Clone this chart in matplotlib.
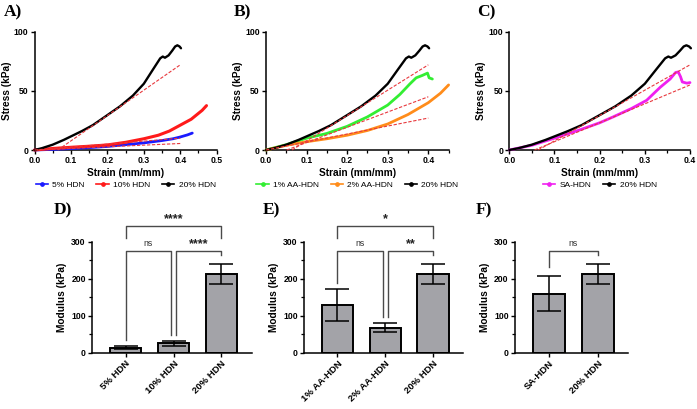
import numpy as np
import matplotlib
matplotlib.use('Agg')
import matplotlib.pyplot as plt
from matplotlib.lines import Line2D
from matplotlib.ticker import MultipleLocator

plt.rcParams['font.family'] = ['Liberation Sans', 'DejaVu Sans']

# ---- stress-strain curves ----
hdn20_x = [0, 0.02, 0.05, 0.08, 0.1, 0.13, 0.16, 0.2, 0.235, 0.27, 0.3, 0.325, 0.345,
           0.352, 0.358, 0.368, 0.378, 0.386, 0.392, 0.398, 0.402]
hdn20_y = [0, 1.5, 4.5, 8.5, 11.5, 16, 21, 29.5, 37, 46, 56, 68, 77.5,
           79, 78, 80, 84, 87.5, 88.5, 87.5, 86]
hdn10_x = [0, 0.05, 0.1, 0.15, 0.2, 0.25, 0.3, 0.34, 0.37, 0.4, 0.43, 0.45, 0.46, 0.472]
hdn10_y = [0, 1.3, 2.3, 3.2, 4.3, 6.5, 9.5, 12.5, 16, 21, 26, 31, 33.5, 37.5]
hdn5_x = [0, 0.05, 0.1, 0.15, 0.2, 0.25, 0.3, 0.35, 0.38, 0.4, 0.42, 0.433]
hdn5_y = [0, 0.5, 1.2, 2, 3, 4.5, 6, 8, 9.5, 11, 12.8, 14.3]
aa1_x = [0, 0.05, 0.1, 0.15, 0.2, 0.25, 0.3, 0.33, 0.355, 0.37, 0.385, 0.398, 0.402, 0.41]
aa1_y = [0, 4.5, 10, 14, 20, 28, 38, 47, 56, 61, 63, 65, 61, 60]
aa2_x = [0, 0.05, 0.1, 0.15, 0.2, 0.25, 0.3, 0.35, 0.4, 0.43, 0.45]
aa2_y = [0, 4, 7, 9.5, 12.5, 16.5, 22, 30, 40, 48, 55]
sa_x = [0, 0.05, 0.1, 0.156, 0.2, 0.23, 0.27, 0.304, 0.334, 0.356, 0.368, 0.374,
        0.379, 0.383, 0.393, 0.40]
sa_y = [0, 4, 10, 17, 23, 28, 35, 42, 53, 60, 65.5, 66, 62, 57.5, 56.5, 57]

# linear fits (strain range, stress range)
fit_hdn20 = ([0.064, 0.40], [0, 72])
fit_hdn10 = ([0.0, 0.40], [0, 10])
fit_hdn5 = ([0.007, 0.40], [0, 5.5])
fit_aa1 = ([0.051, 0.40], [0, 45])
fit_aa2 = ([0.0, 0.40], [0, 27])
fit_sa = ([0.056, 0.40], [0, 55])

# ---- modulus bars ----
d_labels = ['5% HDN', '10% HDN', '20% HDN']
d_mean = [14, 25, 214]
d_sd = [4, 6, 27]
e_labels = ['1% AA-HDN', '2% AA-HDN', '20% HDN']
e_mean = [129, 68, 214]
e_sd = [43, 12, 27]
f_labels = ['SA-HDN', '20% HDN']
f_mean = [160, 214]
f_sd = [47, 27]

# comparisons: (i, j, text, level)
d_sig = [(0, 1, 'ns', 276), (1, 2, '****', 276), (0, 2, '****', 342)]
e_sig = [(0, 1, 'ns', 276), (1, 2, '**', 276), (0, 2, '*', 342)]
f_sig = [(0, 1, 'ns', 276)]

W, H = 697, 409
fig = plt.figure(figsize=(W / 100, H / 100), dpi=100)


def rect(l, r, t, b):
    return [l / W, 1 - b / H, (r - l) / W, (b - t) / H]


def style(ax, xsize=6.2):
    for s in ['top', 'right']:
        ax.spines[s].set_visible(False)
    for s in ['left', 'bottom']:
        ax.spines[s].set_linewidth(1.1)
    ax.tick_params(which='major', length=3, width=1.0, pad=1.5, labelsize=6.2)
    ax.tick_params(axis='x', labelsize=xsize)
    ax.tick_params(which='minor', length=2, width=0.9)
    for lab in ax.get_xticklabels() + ax.get_yticklabels():
        lab.set_fontweight('bold')


red_dash = dict(color='#e8383d', lw=0.8, ls=(0, (3, 1.5)), zorder=5)


def curve_panel(rc, xmax, series, fits, letter, lx):
    ax = fig.add_axes(rc)
    for x, y, c, lw, lab in series:
        ax.plot(x, y, color=c, lw=lw, solid_capstyle='round', clip_on=False, zorder=3)
    for fx, fy in fits:
        ax.plot(fx, fy, clip_on=False, **red_dash)
    ax.set_xlim(0, xmax)
    ax.set_ylim(0, 100)
    ax.set_xticks(np.arange(0, xmax + 0.001, 0.1))
    ax.xaxis.set_minor_locator(MultipleLocator(0.05))
    ax.set_yticks([0, 50, 100])
    ax.set_xticklabels(['%.1f' % v for v in np.arange(0, xmax + 0.001, 0.1)])
    ax.set_xlabel('Strain (mm/mm)', fontsize=7.3, fontweight='bold', labelpad=2)
    ax.set_ylabel('Stress (kPa)', fontsize=7.3, fontweight='bold', labelpad=1.5)
    style(ax)
    handles = [Line2D([], [], color=c, lw=1.2, marker='o', markersize=2.4)
               for x, y, c, lw, lab in series]
    ax.legend(handles, [s[4] for s in series], loc='center', bbox_to_anchor=(0.5, -0.30),
              ncol=len(series), frameon=False, fontsize=6, handlelength=1.5,
              handletextpad=0.5, columnspacing=1.4)
    fig.text(lx / W, 1 - 12 / H, letter, fontsize=12.5, fontweight='bold',
             family='Liberation Serif', va='center')
    return ax


curve_panel(rect(34.5, 216.7, 31.7, 150), 0.5,
            [(hdn5_x, hdn5_y, '#1a1aff', 2.0, '5% HDN'),
             (hdn10_x, hdn10_y, '#ff1a1a', 2.2, '10% HDN'),
             (hdn20_x, hdn20_y, 'black', 1.7, '20% HDN')],
            [fit_hdn20, fit_hdn10, fit_hdn5], 'A)', 4)
curve_panel(rect(266, 448.6, 31.7, 150), 0.45,
            [(aa1_x, aa1_y, '#33ee33', 2.0, '1% AA-HDN'),
             (aa2_x, aa2_y, '#ff8c1a', 2.0, '2% AA-HDN'),
             (hdn20_x, hdn20_y, 'black', 1.7, '20% HDN')],
            [fit_hdn20, fit_aa1, fit_aa2], 'B)', 234)
curve_panel(rect(509.3, 690, 31.7, 150), 0.4,
            [(sa_x, sa_y, '#f020f0', 2.0, 'SA-HDN'),
             (hdn20_x, hdn20_y, 'black', 1.7, '20% HDN')],
            [fit_hdn20, fit_sa], 'C)', 477)


def bar_panel(rc, labels, mean, sd, sig, letter, lx):
    ax = fig.add_axes(rc)
    n = len(labels)
    x = np.arange(n)
    ax.bar(x, mean, width=0.66, color='#a3a3a8', edgecolor='black', linewidth=1.4, zorder=2)
    ax.errorbar(x, mean, yerr=sd, fmt='none', ecolor='black', elinewidth=1.1,
                capsize=8.5, capthick=1.1, zorder=3)
    ax.set_xlim(-0.7, n - 1 + 0.63)
    ax.set_ylim(0, 300)
    ax.set_yticks([0, 100, 200, 300])
    ax.yaxis.set_minor_locator(MultipleLocator(50))
    ax.set_xticks(x)
    ax.set_xticklabels(labels, rotation=45, ha='right', rotation_mode='anchor')
    ax.set_ylabel('Modulus (kPa)', fontsize=7.3, fontweight='bold', labelpad=3)
    style(ax, xsize=6.8)
    tops = [m + s for m, s in zip(mean, sd)]
    for i, j, txt, lev in sig:
        off_i = 0.05 if any(k == i and o < i for o, k, _, l2 in sig if l2 == lev) else 0
        off_j = -0.05 if any(o == j and k > j for o, k, _, l2 in sig if l2 == lev) else 0
        xi, xj = i + off_i, j + off_j
        if lev < 300:
            yi = tops[i] + 16 + (8 if tops[i] > 200 else 0)
            yj = tops[j] + 16 + (8 if tops[j] > 200 else 0)
        else:
            yi = yj = 311
        ax.plot([xi, xi, xj, xj], [yi, lev, lev, yj], color='#4a4a4a', lw=1.0,
                clip_on=False, zorder=4)
        if txt == 'ns':
            ax.text((xi + xj) / 2, lev + 8, txt, ha='center', va='bottom', fontsize=6.3,
                    color='#333333')
        else:
            ax.text((xi + xj) / 2, lev + 2, txt, ha='center', va='bottom', fontsize=9,
                    fontweight='bold', color='#222222')
    fig.text(lx / W, 1 - 210 / H, letter, fontsize=12.5, fontweight='bold',
             family='Liberation Serif', va='center')
    return ax


bar_panel(rect(92, 251.7, 241.7, 352.7), d_labels, d_mean, d_sd, d_sig, 'D)', 54)
bar_panel(rect(304, 463.3, 241.7, 352.7), e_labels, e_mean, e_sd, e_sig, 'E)', 263)
bar_panel(rect(515, 628.3, 241.7, 352.7), f_labels, f_mean, f_sd, f_sig, 'F)', 476)

fig.savefig('out.png', dpi=100)
